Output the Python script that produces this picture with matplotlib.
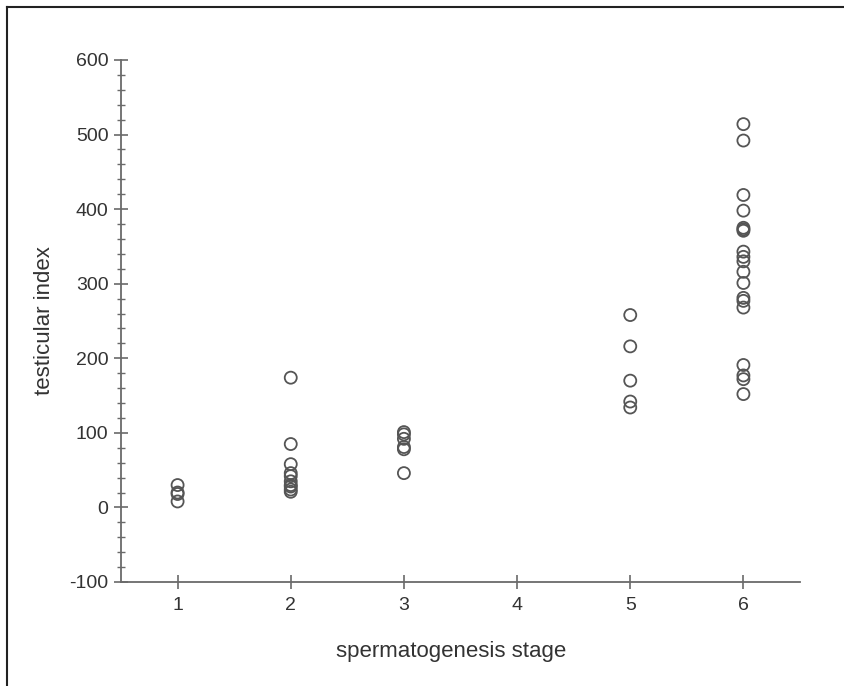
import matplotlib as mpl
mpl.use('Agg')
import matplotlib.pyplot as plt
from matplotlib.lines import Line2D
from matplotlib.ticker import MultipleLocator
import numpy as np

plt.rcParams['font.family'] = ['Liberation Sans', 'DejaVu Sans']
plt.rcParams['axes.unicode_minus'] = False

# testicular index per spermatogenesis stage
stage1 = [30, 20, 18, 8]
stage2 = [174, 85, 58, 46, 42, 35, 30, 28, 24, 21]
stage3 = [101, 98, 92, 81, 78, 46]
stage5 = [258, 216, 170, 142, 134]
stage6 = [514, 492, 419, 398, 375, 373, 371, 343, 336, 330, 316, 301,
          281, 277, 268, 191, 177, 172, 152]

stages = [1, 2, 3, 5, 6]
values = [stage1, stage2, stage3, stage5, stage6]
xticks = [1, 2, 3, 4, 5, 6]

axis_col = '#6a6a6a'
text_col = '#333333'

fig = plt.figure(figsize=(8.45, 6.86), dpi=100)
ax = fig.add_axes([121 / 845, 1 - 582 / 686, (800 - 121) / 845, (582 - 60) / 686])

for s, v in zip(stages, values):
    ax.scatter(np.full(len(v), s), v, s=75, facecolors='none',
               edgecolors='#555555', linewidths=1.3, zorder=3)

ax.set_xlim(0.5, 6.5)
ax.set_ylim(-100, 600)
ax.set_xticks(xticks)
ax.yaxis.set_major_locator(MultipleLocator(100))
ax.yaxis.set_minor_locator(MultipleLocator(20))

for side in ['top', 'right']:
    ax.spines[side].set_visible(False)
for side in ['left', 'bottom']:
    ax.spines[side].set_color(axis_col)
    ax.spines[side].set_linewidth(1.3)

ax.tick_params(axis='both', which='major', direction='inout', length=10,
               width=1.2, color=axis_col, labelcolor=text_col, labelsize=14)
ax.tick_params(axis='y', which='major', pad=4)
ax.tick_params(axis='x', which='major', pad=6)
ax.tick_params(axis='y', which='minor', direction='inout', length=6,
               width=1.0, color=axis_col)

ax.set_xlabel('spermatogenesis stage', fontsize=16, color=text_col)
ax.set_ylabel('testicular index', fontsize=16, color=text_col)
ax.xaxis.set_label_coords((451 - 121) / 679, -(651 - 582) / 522, transform=ax.transAxes)
ax.yaxis.set_label_coords(-(121 - 45) / 679, 0.5, transform=ax.transAxes)
ax.xaxis.label.set_va('center')
ax.yaxis.label.set_va('center')

# page frame (top and left edges only)
fig.add_artist(Line2D([7 / 845, 1], [1 - 7 / 686, 1 - 7 / 686],
                      transform=fig.transFigure, color='#222222', lw=1.5))
fig.add_artist(Line2D([7 / 845, 7 / 845], [0, 1 - 7 / 686],
                      transform=fig.transFigure, color='#222222', lw=1.5))

fig.savefig('out.png', dpi=100)
